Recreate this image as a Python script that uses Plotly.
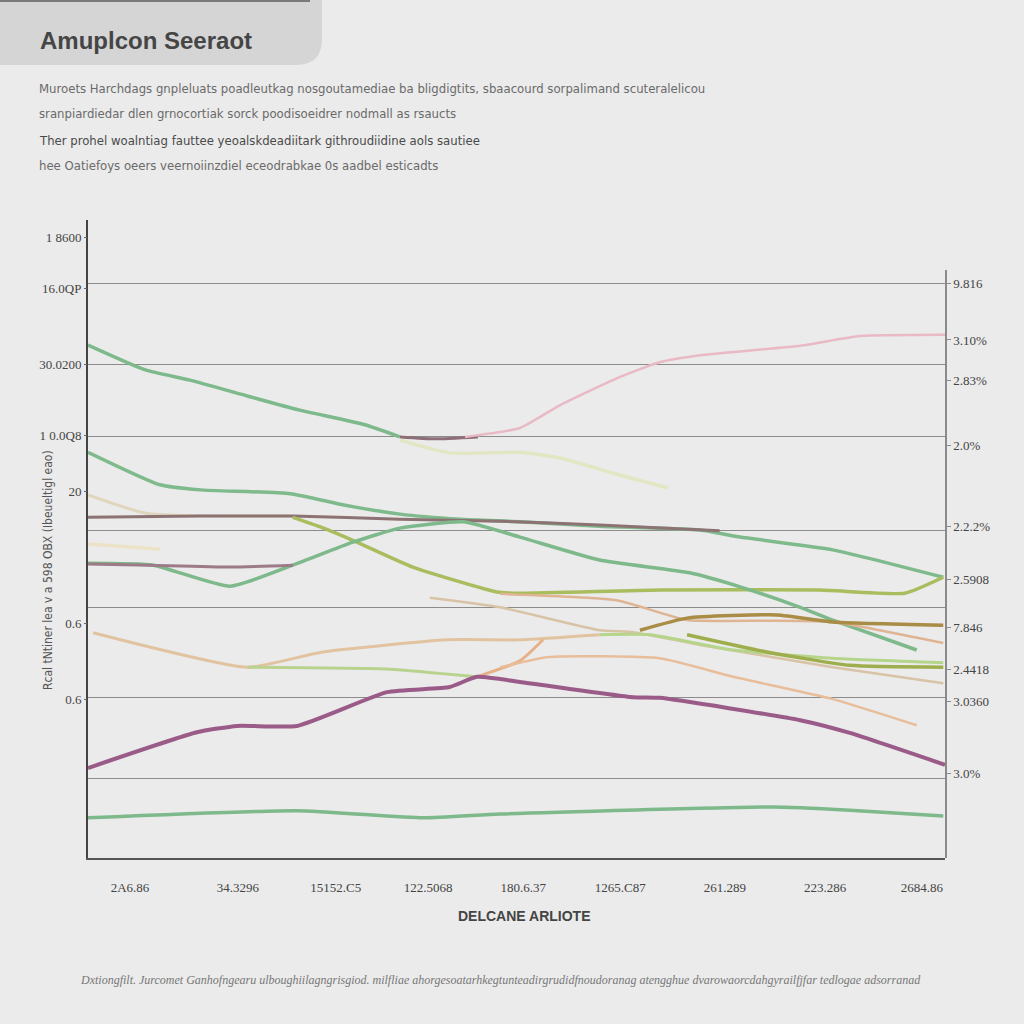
import plotly.graph_objects as go

# ---------------- data ----------------
x_tick_pos = [4.9, 17.5, 28.9, 39.7, 50.8, 62.1, 74.3, 86.0, 97.3]
x_tick_labels = ["2A6.86", "34.3296", "15152.C5", "122.5068", "180.6.37",
                 "1265.C87", "261.289", "223.286", "2684.86"]

left_tick_pos = [97.3, 89.3, 77.3, 66.3, 57.4, 36.8, 24.8]
left_tick_labels = ["1 8600", "16.0QP", "30.0200", "1 0.0Q8", "20", "0.6", "0.6"]

right_tick_pos = [90.0, 81.2, 74.9, 64.6, 51.9, 43.6, 36.1, 29.5, 24.5, 13.3]
right_tick_labels = ["9.816", "3.10%", "2.83%", "2.0%", "2.2.2%", "2.5908",
                     "7.846", "2.4418", "3.0360", "3.0%"]

grid_pos = [90.0, 77.4, 66.1, 51.4, 39.2, 25.1, 12.4]

green_top_x = [0, 6.7, 11.9, 18.9, 24.7, 32.3, 36.4]
green_top_y = [80.4, 76.5, 74.9, 72.3, 70.2, 67.9, 66.0]

mauve_link_x = [36.4, 40.5, 45.5]
mauve_link_y = [66.0, 65.7, 66.0]

pink_x = [44.0, 50.4, 55.1, 62.1, 66.7, 71.4, 83.1, 90.1, 100]
pink_y = [66.0, 67.4, 71.0, 75.4, 77.7, 78.8, 80.3, 81.8, 82.0]

pale_yellow_x = [36.4, 42.2, 50.4, 55.1, 62.1, 67.7]
pale_yellow_y = [65.5, 63.5, 63.6, 62.7, 60.0, 58.0]

pale_tan_x = [0, 6.9, 23.6]
pale_tan_y = [56.9, 54.0, 53.6]

green_mid_x = [0, 8.4, 13.1, 23.6, 30.0, 36.4, 43.4, 50.4, 59.7, 71.4, 76.1, 86.9, 99.8]
green_mid_y = [63.6, 58.5, 57.7, 57.1, 55.3, 53.9, 53.1, 52.7, 52.0, 51.4, 50.3, 48.3, 44.0]

brown_mauve_x = [0, 13.1, 23.9, 36.4, 48.1, 59.7, 73.7]
brown_mauve_y = [53.4, 53.6, 53.6, 53.1, 52.8, 52.2, 51.3]

olive_x = [23.9, 27.1, 30.9, 37.9, 47.7, 50.4, 66.7, 85.4, 95.3, 99.8]
olive_y = [53.4, 51.9, 49.8, 45.6, 41.7, 41.5, 42.0, 42.0, 41.5, 44.0]

short_pale_x = [0, 8.4]
short_pale_y = [49.2, 48.4]

green_v_x = [0, 7.6, 16.6, 23.9, 30.9, 36.4, 43.8, 50.4, 59.7, 70.2, 76.1, 83.1, 86.9, 96.7]
green_v_y = [46.2, 45.9, 42.6, 45.9, 49.5, 51.7, 52.7, 50.3, 46.7, 44.7, 42.5, 39.3, 37.3, 32.6]

mauve_flat_x = [0, 7.2, 16.6, 23.9]
mauve_flat_y = [46.1, 45.9, 45.6, 45.9]

orange_tan_x = [48.1, 61.7, 69.9, 79.2, 86.9, 99.8]
orange_tan_y = [41.4, 40.4, 37.3, 37.2, 37.0, 33.7]

brown_gold_x = [64.4, 69.9, 80.4, 86.9, 99.8]
brown_gold_y = [35.7, 37.6, 38.1, 37.0, 36.5]

tan2_x = [39.9, 48.1, 59.7, 63.6, 71.4, 86.9, 99.8]
tan2_y = [40.8, 39.3, 35.7, 35.4, 33.4, 29.9, 27.4]

tan_up_x = [0.6, 18.6, 27.4, 41.9, 50.4, 59.7]
tan_up_y = [35.3, 29.9, 32.3, 34.2, 34.2, 35.0]

light_green_left_x = [18.6, 35.2, 45.4]
light_green_left_y = [29.9, 29.6, 28.4]

light_green_x = [59.7, 65.6, 75.3, 86.9, 99.8]
light_green_y = [35.0, 35.0, 32.6, 31.3, 30.6]

olive_dark_x = [69.9, 79.2, 88.9, 99.8]
olive_dark_y = [35.0, 32.3, 30.2, 29.9]

orange_rise_x = [45.4, 50.4, 53.1]
orange_rise_y = [28.4, 30.9, 34.2]

pale_orange_x = [48.1, 53.8, 66.7, 75.3, 86.9, 96.7]
pale_orange_y = [29.9, 31.5, 31.3, 28.4, 24.9, 20.8]

purple_x = [0, 12.7, 17.4, 24.4, 34.9, 42.2, 45.4, 50.4, 63.6, 66.7, 83.1, 88.9, 100]
purple_y = [14.1, 19.7, 20.7, 20.7, 26.0, 26.8, 28.4, 27.6, 25.2, 25.1, 21.6, 19.6, 14.6]

bottom_green_x = [0, 24.4, 39.1, 48.1, 79.9, 88.9, 99.8]
bottom_green_y = [6.3, 7.4, 6.3, 6.9, 8.0, 7.5, 6.6]

title_text = "Amuplcon Seeraot"
subtitle_lines = [
    "Muroets Harchdags gnpleluats poadleutkag nosgoutamediae ba bligdigtits, sbaacourd sorpalimand scuteralelicou",
    "sranpiardiedar dlen grnocortiak sorck poodisoeidrer nodmall as rsaucts",
    "Ther prohel woalntiag fauttee yeoalskdeadiitark githroudiidine aols sautiee",
    "hee Oatiefoys oeers veernoiinzdiel eceodrabkae 0s aadbel esticadts",
]
x_title = "DELCANE ARLIOTE"
y_title = "Rcal tNtiner lea v a 598 OBX (Ibeueltigl eao)"
footnote = ("Dxtiongfilt. Jurcomet Ganhofngearu ulboughiilagngrisgiod. milfliae ahorgesoatarhkegtunteadirgrudidfnoudoranag "
            "atengghue dvarowaorcdahgyrailfjfar tedlogae adsorranad")

# ---------------- figure ----------------
ML, MR, MT, MB = 88, 79, 220, 166
W = H = 1024
PW = W - ML - MR
PH = H - MT - MB


def pxx(px):
    return (px - ML) / PW


def pxy(py):
    return (H - MB - py) / PH


series = [
    (green_top_x, green_top_y, "#7db98b", 3.5),
    (mauve_link_x, mauve_link_y, "#8e6f78", 3),
    (pink_x, pink_y, "#e9b9c5", 2.5),
    (pale_yellow_x, pale_yellow_y, "#e3e6c3", 3.5),
    (pale_tan_x, pale_tan_y, "#e0d6bd", 3),
    (green_mid_x, green_mid_y, "#7fba8c", 3.5),
    (brown_mauve_x, brown_mauve_y, "#8c7272", 3),
    (olive_x, olive_y, "#a9bd5e", 3.5),
    (short_pale_x, short_pale_y, "#ebe2c8", 3.5),
    (green_v_x, green_v_y, "#7db98b", 3.5),
    (mauve_flat_x, mauve_flat_y, "#9c7a88", 3),
    (orange_tan_x, orange_tan_y, "#deb493", 2.5),
    (tan2_x, tan2_y, "#d9c3a6", 2.5),
    (brown_gold_x, brown_gold_y, "#a98c45", 3.5),
    (tan_up_x, tan_up_y, "#e2c3a0", 3),
    (light_green_left_x, light_green_left_y, "#b9d38f", 3),
    (light_green_x, light_green_y, "#b5d58a", 3),
    (olive_dark_x, olive_dark_y, "#9fae4c", 3.5),
    (orange_rise_x, orange_rise_y, "#e6b088", 3),
    (pale_orange_x, pale_orange_y, "#e8bd9a", 2.5),
    (purple_x, purple_y, "#9b5b88", 4),
    (bottom_green_x, bottom_green_y, "#7db98b", 3.5),
]

fig = go.Figure()
for xs, ys, col, w in series:
    fig.add_trace(go.Scatter(
        x=xs, y=ys, mode="lines", xaxis="x", yaxis="y",
        line=dict(color=col, width=w, shape="spline", smoothing=0.5),
        hoverinfo="skip", showlegend=False,
    ))

tick_font = dict(family="Liberation Serif, DejaVu Serif, serif", size=13, color="#444444")
right_top = pxy(270)

fig.update_layout(
    width=W, height=H,
    margin=dict(l=ML, r=MR, t=MT, b=MB),
    paper_bgcolor="#ebebeb", plot_bgcolor="rgba(0,0,0,0)",
    showlegend=False,
    xaxis=dict(range=[0, 100], showgrid=False, zeroline=False,
               showline=True, linecolor="#555555", linewidth=2,
               tickvals=x_tick_pos, ticktext=x_tick_labels, ticks="",
               tickfont=tick_font, ticklabelstandoff=16),
    yaxis=dict(range=[0, 100], showgrid=True, gridcolor="#8c8c8c", gridwidth=1,
               zeroline=False, tickvals=grid_pos, showticklabels=False,
               showline=True, linecolor="#444444", linewidth=2, ticks=""),
    yaxis3=dict(range=[0, 100], overlaying="y", side="left", anchor="x",
                showgrid=False, zeroline=False, showline=False,
                tickvals=left_tick_pos, ticktext=left_tick_labels,
                ticks="outside", ticklen=3, tickcolor="#666666",
                tickfont=tick_font),
    yaxis2=dict(range=[0, right_top * 100], domain=[0, right_top],
                anchor="x", side="right",
                showgrid=False, zeroline=False,
                showline=True, linecolor="#8a8a8a", linewidth=1.5,
                tickvals=right_tick_pos, ticktext=right_tick_labels,
                ticks="outside", ticklen=4, tickcolor="#8a8a8a",
                tickfont=tick_font),
)

# empty traces so the secondary axes are drawn
fig.add_trace(go.Scatter(x=[None], y=[None], yaxis="y2", showlegend=False, hoverinfo="skip"))
fig.add_trace(go.Scatter(x=[None], y=[None], yaxis="y3", showlegend=False, hoverinfo="skip"))

# title box with rounded bottom-right corner
r = 26
x0, x1 = pxx(0), pxx(322)
y0, y1 = pxy(0), pxy(65)
rx, ry = r / PW, r / PH
path = (f"M {x0},{y0} L {x1},{y0} L {x1},{y1 + ry} "
        f"Q {x1},{y1} {x1 - rx},{y1} L {x0},{y1} Z")
fig.add_shape(type="path", path=path, xref="paper", yref="paper",
              fillcolor="#d5d5d5", line=dict(width=0), layer="below")
fig.add_shape(type="line", xref="paper", yref="paper",
              x0=pxx(0), x1=pxx(310), y0=pxy(1), y1=pxy(1),
              line=dict(color="#7a7a7a", width=2))

fig.add_annotation(text=f"<b>{title_text}</b>", xref="paper", yref="paper",
                   x=pxx(38), y=pxy(40), xanchor="left", yanchor="middle",
                   showarrow=False,
                   font=dict(family="Liberation Sans, Arial, sans-serif", size=24, color="#454545"))

sub_font_family = "Liberation Sans Narrow, DejaVu Sans Condensed, Liberation Sans, sans-serif"
sub_y = [88, 114, 140, 166]
sub_col = ["#6a6a6a", "#6a6a6a", "#4a4a4a", "#6a6a6a"]
for line, py, col in zip(subtitle_lines, sub_y, sub_col):
    fig.add_annotation(text=line, xref="paper", yref="paper",
                       x=pxx(37), y=pxy(py), xanchor="left", yanchor="middle",
                       showarrow=False,
                       font=dict(family=sub_font_family, size=13, color=col))

fig.add_annotation(text=f"<b>{x_title}</b>", xref="paper", yref="paper",
                   x=pxx(524), y=pxy(916), xanchor="center", yanchor="middle",
                   showarrow=False,
                   font=dict(family="Liberation Sans Narrow, Liberation Sans, sans-serif", size=14, color="#444444"))

fig.add_annotation(text=y_title, xref="paper", yref="paper",
                   x=pxx(48), y=pxy(570), xanchor="center", yanchor="middle",
                   textangle=-90, showarrow=False,
                   font=dict(family=sub_font_family, size=12, color="#555555"))

fig.add_annotation(text=f"<i>{footnote}</i>", xref="paper", yref="paper",
                   x=pxx(78), y=pxy(980), xanchor="left", yanchor="middle",
                   showarrow=False,
                   font=dict(family="Liberation Serif, DejaVu Serif, serif", size=12, color="#777777"))

fig.write_html("out.html", config={"displayModeBar": False},
               post_script="document.body.style.margin='0';")
